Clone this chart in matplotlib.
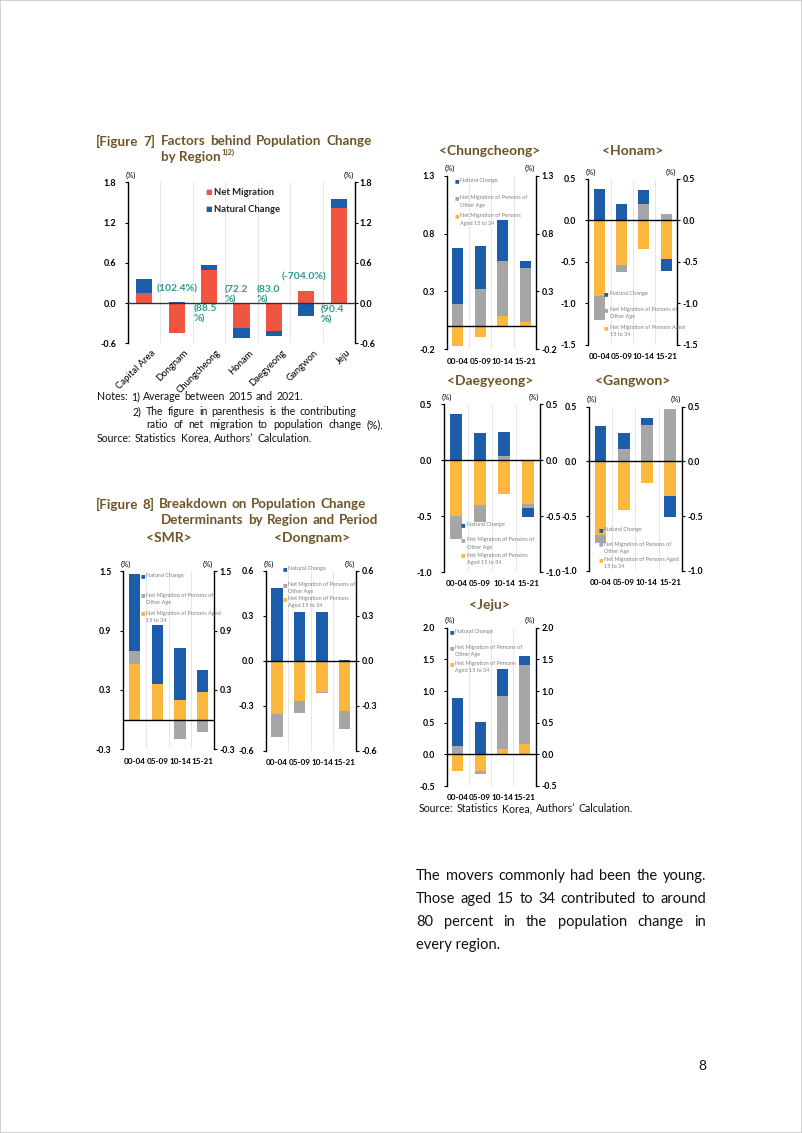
import numpy as np
import matplotlib
matplotlib.use("Agg")
import matplotlib.pyplot as plt
from matplotlib.patches import Rectangle
import matplotlib.transforms as mtrans

plt.rcParams['font.family'] = ['Lato', 'DejaVu Sans']

# ---------------- data ----------------
regions = ['Capital Area', 'Dongnam', 'Chungcheong', 'Honam', 'Daegyeong', 'Gangwon', 'Jeju']
net_migration = [0.149, -0.443, 0.498, -0.373, -0.418, 0.174, 1.414]
natural_change = [0.214, 0.010, 0.075, -0.145, -0.080, -0.199, 0.144]
contrib_labels = ['(102.4%)', '(88.5\n%)', '(72.2\n%)', '(83.0\n%)', '(-704.0%)', '(90.4\n%)']

periods = ['00-04', '05-09', '10-14', '15-21']

smr_young = [0.56, 0.357, 0.195, 0.283]
smr_other = [0.138, 0.0, -0.192, -0.128]
smr_natural = [0.778, 0.60, 0.53, 0.216]

dongnam_young = [-0.356, -0.27, -0.21, -0.334]
dongnam_other = [-0.152, -0.077, -0.005, -0.118]
dongnam_natural = [0.486, 0.323, 0.323, 0.007]

chung_young = [-0.168, -0.09, 0.084, 0.035]
chung_other = [0.188, 0.324, 0.48, 0.468]
chung_natural = [0.485, 0.37, 0.352, 0.063]

honam_young = [-0.912, -0.542, -0.345, -0.462]
honam_other = [-0.293, -0.076, 0.20, 0.08]
honam_natural = [0.378, 0.197, 0.169, -0.144]

daeg_young = [-0.503, -0.402, -0.304, -0.393]
daeg_other = [-0.199, -0.154, 0.036, -0.033]
daeg_natural = [0.408, 0.241, 0.214, -0.08]

gang_young = [-0.669, -0.441, -0.20, -0.319]
gang_other = [-0.076, 0.116, 0.334, 0.477]
gang_natural = [0.322, 0.148, 0.067, -0.189]

jeju_young = [-0.263, -0.265, 0.079, 0.158]
jeju_other = [0.126, -0.045, 0.842, 1.247]
jeju_natural = [0.758, 0.51, 0.426, 0.142]

leg_natural = 'Natural Change'
leg_other = 'Net Migration of Persons of\nOther Age'
leg_young_a = 'Net Migration of Persons\nAged 15 to 34'
leg_young_b = 'Net Migration of Persons Aged\n15 to 34'

# ---------------- style ----------------
W, H = 802, 1133
RED = '#f1553f'
BLUE = '#1b5dab'
GRAY = '#a6a6a6'
YEL = '#fbb73e'
TEAL = '#2b9b8e'
BROWN = '#6e5427'
LEGC = '#7f7f7f'

fig = plt.figure(figsize=(W / 100, H / 100), dpi=100)
renderer = fig.canvas.get_renderer()


def fx(x):
    return x / W


def fy(y):
    return 1 - y / H


def add_ax(l, t, r, b):
    return fig.add_axes([l / W, 1 - b / H, (r - l) / W, (b - t) / H])


def justify(line, x0, x1, y, **kw):
    words = line.split()
    texts = [fig.text(fx(x0), fy(y), w, va='center', ha='left', **kw) for w in words]
    widths = [t.get_window_extent(renderer).width for t in texts]
    gap = (x1 - x0 - sum(widths)) / max(len(words) - 1, 1)
    x = x0
    for t, w in zip(texts, widths):
        t.set_x(fx(x))
        x += w + gap
    return texts


def style_axes(ax, ticks, fmt, fs=6.3, lpad=6.0, rpad=1.5):
    ax.spines['top'].set_visible(False)
    ax.spines['bottom'].set_visible(False)
    for s in ['left', 'right']:
        ax.spines[s].set_linewidth(1.0)
        ax.spines[s].set_color('black')
    labels = [fmt.format(v) for v in ticks]
    ax.set_yticks(ticks)
    ax.set_yticklabels(labels, fontsize=fs, fontweight='bold')
    ax.tick_params(axis='y', which='both', left=True, right=False, labelleft=True,
                   labelright=False, direction='out', length=2.5, width=0.8, pad=lpad)
    ax2 = ax.twinx()
    ax2.set_ylim(ax.get_ylim())
    ax2.set_yticks(ticks)
    ax2.set_yticklabels(labels, fontsize=fs, fontweight='bold')
    ax2.tick_params(axis='y', direction='out', length=2.5, width=0.8, pad=rpad)
    for s in ['left', 'right', 'top', 'bottom']:
        ax2.spines[s].set_visible(False)
    ax.text(0, 1, '(%)', transform=ax.transAxes + mtrans.ScaledTranslation(3 / 100, 7 / 100, fig.dpi_scale_trans),
            ha='center', va='center', fontsize=5.5)
    ax.text(1, 1, '(%)', transform=ax.transAxes + mtrans.ScaledTranslation(-6 / 100, 7 / 100, fig.dpi_scale_trans),
            ha='center', va='center', fontsize=5.5)


def small_chart(box, ylim, ticks, young, other, natural, title, title_xy, leg_xy, leg_ys, young_label):
    ax = add_ax(*box)
    x = np.arange(len(periods))
    pos_b = np.zeros(len(periods))
    neg_b = np.zeros(len(periods))
    for vals, col in [(young, YEL), (other, GRAY), (natural, BLUE)]:
        v = np.array(vals, dtype=float)
        bottom = np.where(v >= 0, pos_b, neg_b)
        ax.bar(x, v, 0.5, bottom=bottom, color=col, zorder=2, linewidth=0)
        pos_b += np.clip(v, 0, None)
        neg_b += np.clip(v, None, 0)
    ax.set_xlim(-0.5, len(periods) - 0.5)
    ax.set_ylim(*ylim)
    ax.axhline(0, color='black', lw=1.0, zorder=3)
    for xv in np.arange(0.5, len(periods) - 0.5, 1):
        ax.axvline(xv, color='#e3e3e3', lw=0.6, zorder=0)
    ax.set_xticks(x)
    ax.set_xticklabels(periods, fontsize=5.9, fontweight='bold')
    ax.tick_params(axis='x', length=0, pad=6)
    style_axes(ax, ticks, '{:.1f}', fs=6.3)
    fig.text(fx(title_xy[0]), fy(title_xy[1]), title, ha='center', va='center',
             fontsize=10, fontweight='bold', color=BROWN)
    lx, ly = leg_xy
    labels = [(leg_natural, BLUE), (leg_other, GRAY), (young_label, YEL)]
    for (lab, col), yy in zip(labels, leg_ys):
        fig.text(fx(lx), fy(yy), '■', color=col, fontsize=3.5, ha='center', va='center',
                 family='DejaVu Sans')
        for i, ln in enumerate(lab.split('\n')):
            fig.text(fx(lx + 3.5), fy(yy + i * 7.5), ln, color=LEGC, fontsize=4.0,
                     ha='left', va='center')
    return ax


# ---------------- Figure 7 ----------------
justify('[Figure 7]  Factors behind Population Change', 96, 372, 141,
        fontsize=9.6, fontweight='bold', color=BROWN)
t2 = fig.text(fx(161), fy(157), 'by Region', ha='left', va='center', fontsize=9.6,
              fontweight='bold', color=BROWN)
wb = t2.get_window_extent(renderer).width
fig.text(fx(161 + wb + 1), fy(152), '1)2)', ha='left', va='center', fontsize=5.5,
         fontweight='bold', color=BROWN)

ax7 = add_ax(128, 182.3, 355, 343.3)
x7 = np.arange(len(regions))
nm = np.array(net_migration)
nc = np.array(natural_change)
ax7.bar(x7, nm, 0.5, color=RED, zorder=2, linewidth=0)
nc_bottom = np.where(np.sign(nc) == np.sign(nm), nm, 0)
ax7.bar(x7, nc, 0.5, bottom=nc_bottom, color=BLUE, zorder=2, linewidth=0)
ax7.set_xlim(-0.5, len(regions) - 0.5)
ax7.set_ylim(-0.6, 1.8)
ax7.axhline(0, color='#333333', lw=1.0, zorder=3)
for xv in np.arange(0.5, len(regions) - 0.5, 1):
    ax7.axvline(xv, color='#e3e3e3', lw=0.6, zorder=0)
ax7.set_xticks(x7)
ax7.set_xticklabels(regions, rotation=45, ha='right', va='top', rotation_mode='anchor', fontsize=6.8)
ax7.tick_params(axis='x', length=0, pad=2)
off = mtrans.ScaledTranslation(7 / 100, -2 / 100, fig.dpi_scale_trans)
for lab in ax7.get_xticklabels():
    lab.set_transform(lab.get_transform() + off)
style_axes(ax7, [-0.6, 0.0, 0.6, 1.2, 1.8], '{:.1f}', fs=6.5, lpad=6.0, rpad=1.0)

ann_pos = [(1.01, 0.209, 'center'), (1.52, -0.165, 'left'), (2.49, 0.125, 'left'),
           (3.47, 0.125, 'left'), (4.93, 0.393, 'center'), (5.43, -0.18, 'left')]
for (ax_, ay_, ha_), txt in zip(ann_pos, contrib_labels):
    ax7.text(ax_, ay_, txt, color=TEAL, fontsize=7.5, fontweight='bold', ha=ha_, va='center',
             linespacing=1.1, zorder=4)

for yy, col, lab in [(192.3, RED, 'Net Migration'), (209, BLUE, 'Natural Change')]:
    fig.text(fx(209), fy(yy), '■', color=col, fontsize=5, ha='center', va='center', family='DejaVu Sans')
    fig.text(fx(213.5), fy(yy), lab, fontsize=6.8, fontweight='bold', ha='left', va='center', color='#222222')

NFS = 7.6
justify('Notes: 1) Average between 2015 and 2021.', 96.7, 303.3, 396.7, fontsize=NFS, color='#111111')
justify('2) The figure in parenthesis is the contributing', 132.7, 356.7, 411.3, fontsize=NFS, color='#111111')
justify('ratio of net migration to population change (%).', 146.7, 383.3, 425, fontsize=NFS, color='#111111')
justify('Source: Statistics Korea, Authors\u2019 Calculation.', 96.7, 311.7, 438.3, fontsize=NFS, color='#111111')

# ---------------- Figure 8 ----------------
justify('[Figure 8]  Breakdown on Population Change', 96, 366, 504,
        fontsize=9.6, fontweight='bold', color=BROWN)
justify('Determinants by Region and Period', 161, 378, 520,
        fontsize=9.6, fontweight='bold', color=BROWN)

small_chart((123.3, 571.3, 214, 749.3), (-0.3, 1.5), [-0.3, 0.3, 0.9, 1.5],
            smr_young, smr_other, smr_natural, '<SMR>', (169, 538),
            (142.7, 576), (576, 595, 613), leg_young_b)
small_chart((265.7, 571, 356, 750.7), (-0.6, 0.6), [-0.6, -0.3, 0.0, 0.3, 0.6],
            dongnam_young, dongnam_other, dongnam_natural, '<Dongnam>', (311.7, 538.3),
            (285, 568.7), (568.7, 584.3, 598.3), leg_young_a)
small_chart((446.7, 175.7, 536.3, 349.3), (-0.2, 1.3), [-0.2, 0.3, 0.8, 1.3],
            chung_young, chung_other, chung_natural, '<Chungcheong>', (489.7, 150.7),
            (456.7, 180.7), (180.7, 197.7, 216), leg_young_a)
small_chart((588.3, 179, 677.3, 344.7), (-1.5, 0.5), [-1.5, -1.0, -0.5, 0.0, 0.5],
            honam_young, honam_other, honam_natural, '<Honam>', (632.7, 150.7),
            (606, 293.7), (293.7, 309.3, 327.3), leg_young_b)
small_chart((444.3, 404, 540, 572), (-1.0, 0.5), [-1.0, -0.5, 0.0, 0.5],
            daeg_young, daeg_other, daeg_natural, '<Daegyeong>', (490, 380.7),
            (463.3, 525), (525, 540, 555), leg_young_a)
small_chart((589, 406.7, 681.7, 571), (-1.0, 0.5), [-1.0, -0.5, 0.0, 0.5],
            gang_young, gang_other, gang_natural, '<Gangwon>', (632.7, 380.7),
            (601, 530), (530, 544, 559.3), leg_young_b)
small_chart((446.7, 627.7, 535.7, 786), (-0.5, 2.0), [-0.5, 0.0, 0.5, 1.0, 1.5, 2.0],
            jeju_young, jeju_other, jeju_natural, '<Jeju>', (489, 605),
            (451.7, 631.7), (631.7, 647.3, 663.3), leg_young_a)

justify('Source: Statistics Korea, Authors\u2019 Calculation.', 419, 633, 809, fontsize=NFS, color='#111111')

# ---------------- body text ----------------
para = ['The movers commonly had been the young.',
        'Those aged 15 to 34 contributed to around',
        '80 percent in the population change in']
for i, ln in enumerate(para):
    justify(ln, 416, 706, 876 + i * 23, fontsize=10.5, color='#111111')
fig.text(fx(416), fy(876 + 3 * 23), 'every region.', fontsize=10.5, color='#111111', ha='left', va='center')

fig.text(fx(702), fy(1066), '8', fontsize=10, color='#111111', ha='center', va='center')

fig.patches.append(Rectangle((0, 0), 1, 1, transform=fig.transFigure, fill=False,
                             edgecolor='#c8c8c8', lw=1.2))

fig.savefig('out.png', dpi=100)
